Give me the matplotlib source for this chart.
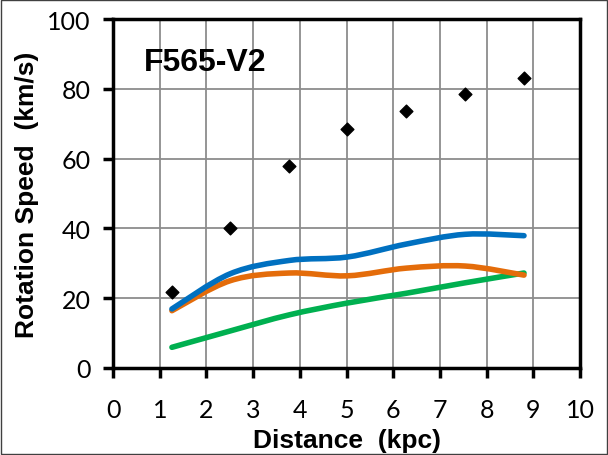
import numpy as np
import matplotlib.pyplot as plt
from matplotlib.path import Path
from matplotlib.patches import PathPatch, Rectangle

# radius (kpc) and speeds (km/s)
r = [1.26, 2.51, 3.77, 5.02, 6.28, 7.54, 8.8]
v_obs = [21.8, 40.1, 57.9, 68.5, 73.6, 78.5, 83.1]
v_blue = [16.9, 27.0, 30.8, 31.8, 35.5, 38.3, 37.9]
v_orange = [16.4, 25.0, 27.2, 26.4, 28.6, 29.2, 26.6]
v_green = [5.9, 10.6, 15.2, 18.6, 21.4, 24.4, 27.2]


def smooth_path(x, y):
    # Excel style smoothed line: cubic bezier segments, Catmull-Rom control points
    x = np.asarray(x, float)
    y = np.asarray(y, float)
    n = len(x)
    verts = [(x[0], y[0])]
    codes = [Path.MOVETO]
    for i in range(n - 1):
        i0 = max(i - 1, 0)
        i3 = min(i + 2, n - 1)
        c1 = (x[i] + (x[i + 1] - x[i0]) / 6, y[i] + (y[i + 1] - y[i0]) / 6)
        c2 = (x[i + 1] - (x[i3] - x[i]) / 6, y[i + 1] - (y[i3] - y[i]) / 6)
        verts += [c1, c2, (x[i + 1], y[i + 1])]
        codes += [Path.CURVE4] * 3
    return Path(verts, codes)


fig = plt.figure(figsize=(6.08, 4.56), dpi=100)
ax = fig.add_axes([0.186, 0.191, 0.768, 0.765])

for yy, col in [(v_green, '#00B050'), (v_orange, '#E46C0A'), (v_blue, '#0070C0')]:
    ax.add_patch(PathPatch(smooth_path(r, yy), fill=False, edgecolor=col,
                           lw=4, capstyle='round', zorder=3))

ax.scatter(r, v_obs, marker='D', s=42, color='black', zorder=4)

ax.set_xlim(0, 10)
ax.set_ylim(0, 100)
ax.set_xticks(range(0, 11))
ax.set_yticks(range(0, 101, 20))
ax.grid(True, color='#8c8c8c', lw=1.3)
ax.set_axisbelow(True)
for s in ax.spines.values():
    s.set_linewidth(2.5)
    s.set_color('black')
ax.tick_params(direction='out', length=7, width=2.5, labelsize=18, pad=9)
ax.tick_params(axis='x', pad=15)
for lab in ax.get_xticklabels() + ax.get_yticklabels():
    lab.set_family('Lato')

ax.set_xlabel('Distance  (kpc)', fontsize=19, fontweight='bold',
              family='Liberation Sans', labelpad=5)
ax.set_ylabel('Rotation Speed  (km/s)', fontsize=19, fontweight='bold',
              family='Liberation Sans', labelpad=6)
ax.text(0.065, 0.855, 'F565-V2', transform=ax.transAxes, fontsize=23,
        fontweight='bold', family='Liberation Sans')

fig.patches.append(Rectangle((0.002, 0.002), 0.996, 0.996, transform=fig.transFigure,
                             fill=False, edgecolor='#404040', lw=1))

fig.savefig('out.png', dpi=100)
